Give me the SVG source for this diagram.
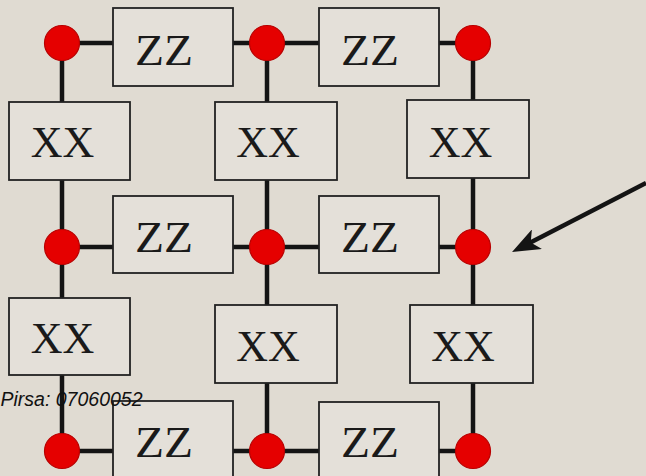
<svg xmlns="http://www.w3.org/2000/svg" width="646" height="476" viewBox="0 0 646 476">
<style>
.bg{fill:#e0dbd2}
.ln{stroke:#141414;stroke-width:4.5;fill:none}
.box{fill:#e4e0d9;stroke:#222;stroke-width:1.8}
.lbl{font-family:"Liberation Serif","DejaVu Serif",serif;font-size:44px;fill:#1a1a1a;text-anchor:middle}
.z{font-size:45px}
.q{fill:#e50000;stroke:#b80000;stroke-width:1.2}
.cap{font-family:"Liberation Sans",Arial,sans-serif;font-style:italic;font-size:19.5px;fill:#111}
</style>
<defs>
<marker id="ah" viewBox="0 0 28 22" refX="16" refY="11" markerWidth="28" markerHeight="22" markerUnits="userSpaceOnUse" orient="auto">
<path d="M0,0 L28,11 L0,22 L7,11 z" fill="#141414"/>
</marker>
</defs>
<rect class="bg" x="0" y="0" width="646" height="476"/>
<g id="connectors">
<line class="ln" x1="62" y1="43" x2="473" y2="43"/>
<line class="ln" x1="62" y1="247" x2="473" y2="247"/>
<line class="ln" x1="62" y1="451" x2="473" y2="451"/>
<line class="ln" x1="62" y1="43" x2="62" y2="451"/>
<line class="ln" x1="267" y1="43" x2="267" y2="451"/>
<line class="ln" x1="473" y1="43" x2="473" y2="451"/>
<line class="ln" x1="646" y1="183" x2="522.7" y2="246.5" stroke-width="5" marker-end="url(#ah)"/>
</g>
<g id="zz-1-1"><rect class="box" x="113" y="8" width="120" height="78"/><text class="lbl z" x="164" y="65" textLength="58" lengthAdjust="spacingAndGlyphs">ZZ</text></g>
<g id="zz-1-2"><rect class="box" x="319" y="8" width="120" height="78"/><text class="lbl z" x="370" y="65" textLength="58" lengthAdjust="spacingAndGlyphs">ZZ</text></g>
<g id="zz-2-1"><rect class="box" x="113" y="196" width="120" height="77"/><text class="lbl z" x="164" y="252" textLength="58" lengthAdjust="spacingAndGlyphs">ZZ</text></g>
<g id="zz-2-2"><rect class="box" x="319" y="196" width="120" height="77"/><text class="lbl z" x="370" y="252" textLength="58" lengthAdjust="spacingAndGlyphs">ZZ</text></g>
<g id="zz-3-1"><rect class="box" x="113" y="401" width="120" height="78"/><text class="lbl z" x="164" y="457" textLength="58" lengthAdjust="spacingAndGlyphs">ZZ</text></g>
<g id="zz-3-2"><rect class="box" x="319" y="402" width="120" height="78"/><text class="lbl z" x="370" y="457" textLength="58" lengthAdjust="spacingAndGlyphs">ZZ</text></g>
<g id="xx-1-1"><rect class="box" x="9" y="102" width="121" height="78"/><text class="lbl" x="62.5" y="157">XX</text></g>
<g id="xx-1-2"><rect class="box" x="215" y="102" width="122" height="78"/><text class="lbl" x="268" y="157">XX</text></g>
<g id="xx-1-3"><rect class="box" x="407" y="100" width="122" height="78"/><text class="lbl" x="460.5" y="157">XX</text></g>
<g id="xx-2-1"><rect class="box" x="9" y="298" width="121" height="77"/><text class="lbl" x="62.5" y="353">XX</text></g>
<g id="xx-2-2"><rect class="box" x="215" y="305" width="122" height="78"/><text class="lbl" x="268" y="361">XX</text></g>
<g id="xx-2-3"><rect class="box" x="410" y="305" width="123" height="78"/><text class="lbl" x="463" y="361">XX</text></g>
<g id="q-1-1"><circle class="q" cx="62" cy="43" r="17.5"/></g>
<g id="q-1-2"><circle class="q" cx="267" cy="43" r="17.5"/></g>
<g id="q-1-3"><circle class="q" cx="473" cy="43" r="17.5"/></g>
<g id="q-2-1"><circle class="q" cx="62" cy="247" r="17.5"/></g>
<g id="q-2-2"><circle class="q" cx="267" cy="247" r="17.5"/></g>
<g id="q-2-3"><circle class="q" cx="473" cy="247" r="17.5"/></g>
<g id="q-3-1"><circle class="q" cx="62" cy="451" r="17.5"/></g>
<g id="q-3-2"><circle class="q" cx="267" cy="451" r="17.5"/></g>
<g id="q-3-3"><circle class="q" cx="473" cy="451" r="17.5"/></g>
<text class="cap" x="0.5" y="406">Pirsa: 07060052</text>
</svg>
